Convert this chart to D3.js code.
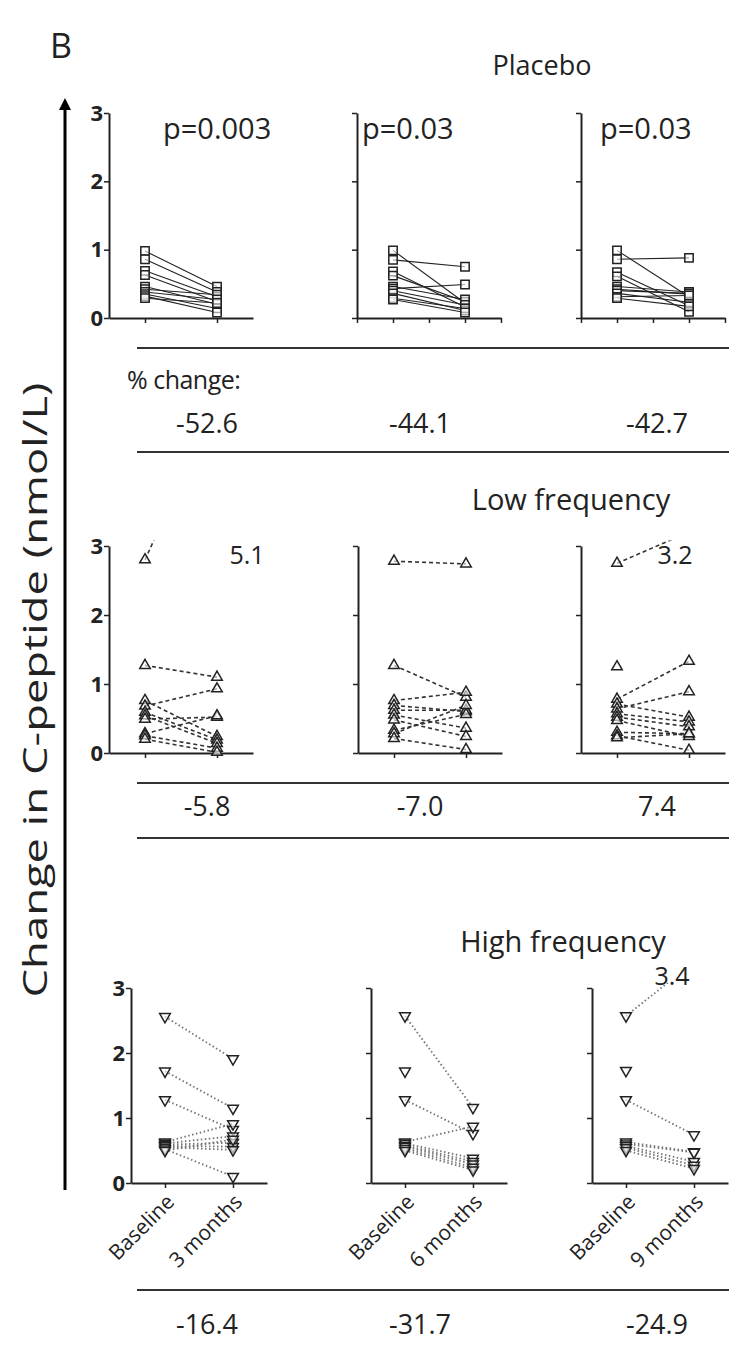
<!DOCTYPE html>
<html>
<head>
<meta charset="utf-8">
<script src="https://cdn.jsdelivr.net/npm/d3@7"></script>
<style>
  body { margin: 0; background: #fff; }
  svg { display: block; }
  text { font-family: "Open Sans", sans-serif; fill: #222; }
</style>
</head>
<body>
<svg id="chart" width="729" height="1346"></svg>
<script>
const groups = ["Placebo", "Low frequency", "High frequency"];
const followUps = ["3 months", "6 months", "9 months"];
const yTicks = [0, 1, 2, 3];
const pLabels = ["p=0.003", "p=0.03", "p=0.03"];

// C-peptide (nmol/L), one inner array per panel: 3, 6, 9 months
const placeboBaseline = [
  [0.98, 0.86, 0.69, 0.63, 0.46, 0.42, 0.38, 0.35, 0.32, 0.29],
  [0.99, 0.85, 0.68, 0.62, 0.46, 0.43, 0.40, 0.36, 0.29, 0.27],
  [0.99, 0.86, 0.67, 0.61, 0.46, 0.42, 0.40, 0.36, 0.31, 0.29]
];
const placeboFollow = [
  [0.46, 0.38, 0.31, 0.24, 0.20, 0.34, 0.27, 0.14, 0.08, 0.22],
  [0.22, 0.75, 0.16, 0.24, 0.27, 0.49, 0.19, 0.11, 0.14, 0.08],
  [0.31, 0.88, 0.18, 0.09, 0.38, 0.35, 0.36, 0.23, 0.33, 0.17]
];
const lowBaseline = [
  [2.80, 1.27, 0.76, 0.68, 0.59, 0.54, 0.49, 0.28, 0.25, 0.20],
  [2.78, 1.27, 0.76, 0.69, 0.62, 0.55, 0.48, 0.33, 0.28, 0.21],
  [2.75, 1.25, 0.78, 0.71, 0.64, 0.57, 0.52, 0.47, 0.30, 0.25, 0.22]
];
const lowFollow = [
  [5.1, 1.10, 0.24, 0.93, 0.19, 0.14, 0.52, 0.54, 0.07, 0.01],
  [2.74, 0.81, 0.88, 0.60, 0.62, 0.36, 0.24, 0.56, 0.69, 0.05],
  [3.2, null, 1.33, 0.52, 0.89, 0.45, 0.38, 0.24, 0.28, 0.04, 0.28]
];
const highBaseline = [
  [2.56, 1.72, 1.28, 0.63, 0.61, 0.59, 0.57, 0.55, 0.52, 0.50],
  [2.57, 1.72, 1.28, 0.63, 0.61, 0.58, 0.56, 0.53, 0.50],
  [2.57, 1.73, 1.28, 0.63, 0.60, 0.57, 0.54, 0.50]
];
const highFollow = [
  [1.91, 1.15, 0.82, 0.91, 0.72, 0.62, 0.56, 0.51, 0.10, 0.67],
  [1.16, null, 0.76, 0.87, 0.38, 0.33, 0.29, 0.24, 0.20],
  [3.4, null, 0.74, 0.48, 0.47, 0.33, 0.27, 0.22]
];
const pctPlacebo = ["-52.6", "-44.1", "-42.7"];
const pctLow = ["-5.8", "-7.0", "7.4"];
const pctHigh = ["-16.4", "-31.7", "-24.9"];

const svg = d3.select("#chart");

// row layout
const rows = [
  { title: groups[0], base: placeboBaseline, follow: placeboFollow, pct: pctPlacebo,
    y0: 318, y3: 113, axX: [109, 357, 581], w: 144, titleX: 542, titleY: 75, pctY: 433, rules: [348, 452],
    symbol: d3.symbolSquare, size: 70, rot: 0, dash: null, lineColor: "#222", lineW: 1.1,
    allTicks: [false, true, true], offDx: [0, 0, 0], offDy: [0, 0, 0] },
  { title: groups[1], base: lowBaseline, follow: lowFollow, pct: pctLow,
    y0: 753, y3: 546, axX: [109, 358, 581], w: 144, titleX: 571, titleY: 510, pctY: 816, rules: [783, 838],
    symbol: d3.symbolTriangle, size: 48, rot: 0, dash: "4,3", lineColor: "#333", lineW: 1.6,
    allTicks: [false, false, false], offDx: [30, 0, -14], offDy: [18, 0, 18] },
  { title: groups[2], base: highBaseline, follow: highFollow, pct: pctHigh,
    y0: 1183, y3: 988, axX: [131, 371, 592], w: 136, titleX: 563, titleY: 952, pctY: 1334, rules: [1290],
    symbol: d3.symbolTriangle, size: 50, rot: 180, dash: "1.5,2.5", lineColor: "#777", lineW: 1.9,
    allTicks: [false, false, false], offDx: [0, 0, -22], offDy: [0, 0, -3] }
];
const pctX = [207, 420, 657];

// panel label and big arrow
svg.append("text").attr("x", 50).attr("y", 58).attr("font-size", 34).text("B");

const defs = svg.append("defs");
defs.append("marker").attr("id", "arrow").attr("viewBox", "0 0 10 10")
  .attr("refX", 5).attr("refY", 5).attr("markerWidth", 4).attr("markerHeight", 6)
  .attr("orient", "auto-start-reverse")
  .append("path").attr("d", "M0,0L10,5L0,10Z").attr("fill", "#000");
svg.append("line").attr("x1", 65).attr("x2", 65).attr("y1", 1190).attr("y2", 104)
  .attr("stroke", "#000").attr("stroke-width", 3).attr("marker-end", "url(#arrow)");

svg.append("text")
  .attr("transform", "translate(47,690) rotate(-90)")
  .attr("text-anchor", "middle").attr("font-size", 33)
  .attr("textLength", 615).attr("lengthAdjust", "spacingAndGlyphs")
  .text("Change in C-peptide (nmol/L)");

svg.append("text").attr("x", 127).attr("y", 389).attr("font-size", 25)
  .attr("letter-spacing", "-0.5").text("% change:");

rows.forEach((row, ri) => {
  svg.append("text").attr("x", row.titleX).attr("y", row.titleY).attr("text-anchor", "middle")
    .attr("font-size", ri === 0 ? 27 : 29).text(row.title);

  row.rules.forEach(ry => {
    svg.append("line").attr("x1", 137).attr("x2", 729).attr("y1", ry).attr("y2", ry)
      .attr("stroke", "#333").attr("stroke-width", 2);
  });

  row.pct.forEach((p, i) => {
    svg.append("text").attr("x", pctX[i]).attr("y", row.pctY).attr("text-anchor", "middle")
      .attr("font-size", 27).text(p);
  });

  row.axX.forEach((ax, pi) => {
    const x = d3.scaleLinear().domain([0, 4]).range([ax, ax + row.w]);
    const y = d3.scaleLinear().domain([0, 3]).range([row.y0, row.y3]);
    const g = svg.append("g");

    const clipId = `clip-${ri}-${pi}`;
    defs.append("clipPath").attr("id", clipId).append("rect")
      .attr("x", ax).attr("y", y(3.08)).attr("width", row.w + 20).attr("height", row.y0 - y(3.08) + 10);

    const pairs = row.base[pi].map((b, k) => ({ b, f: row.follow[pi][k] }));

    g.append("g").attr("clip-path", `url(#${clipId})`)
      .selectAll("line").data(pairs.filter(d => d.f !== null)).join("line")
      .attr("x1", x(1)).attr("x2", x(3))
      .attr("y1", d => y(d.b)).attr("y2", d => y(d.f))
      .attr("stroke", row.lineColor).attr("stroke-width", row.lineW)
      .attr("stroke-dasharray", row.dash);

    // axes
    const yAxis = d3.axisLeft(y).tickValues(yTicks).tickSize(5).tickSizeOuter(0)
      .tickFormat(pi === 0 ? d3.format("d") : "");
    const ya = g.append("g").attr("transform", `translate(${ax},0)`).call(yAxis);
    const xTickVals = row.allTicks[pi] ? [0, 1, 2, 3, 4] : [1, 3];
    const xAxis = d3.axisBottom(x).tickValues(xTickVals).tickSize(5).tickSizeOuter(0)
      .tickFormat(ri === 2 ? (d => d === 1 ? "Baseline" : followUps[pi]) : "");
    const xa = g.append("g").attr("transform", `translate(0,${row.y0})`).call(xAxis);
    [ya, xa].forEach(a => {
      a.attr("font-size", null).attr("font-family", null);
      a.select(".domain").attr("stroke", "#222").attr("stroke-width", 2);
      a.selectAll(".tick line").attr("stroke", "#222").attr("stroke-width", 1.5);
      a.selectAll(".tick text").style("font-size", "22px")
        .style("font-weight", "bold").attr("fill", "#333");
    });
    ya.selectAll(".tick text").attr("x", -6);
    if (ri === 2) {
      xa.selectAll(".tick text").attr("x", 0).attr("y", 0).attr("dy", "0.35em")
        .attr("text-anchor", "end").style("font-weight", "normal").style("font-size", "21px")
        .attr("fill", "#444")
        .attr("transform", "translate(5,15) rotate(-45)");
    }

    // markers
    const sym = d3.symbol(row.symbol, row.size);
    const pts = [];
    pairs.forEach(d => {
      pts.push({ t: 1, v: d.b });
      if (d.f !== null && d.f <= 3) pts.push({ t: 3, v: d.f });
    });
    g.selectAll("path.pt").data(pts).join("path").attr("class", "pt")
      .attr("d", sym)
      .attr("transform", d => `translate(${x(d.t)},${y(d.v)}) rotate(${row.rot})`)
      .attr("fill", "#fff").attr("fill-opacity", 0.6)
      .attr("stroke", "#222").attr("stroke-width", 1.5);

    // off-scale values
    pairs.filter(d => d.f !== null && d.f > 3).forEach(d => {
      g.append("text").attr("x", x(3) + row.offDx[pi]).attr("y", y(3) + row.offDy[pi])
        .attr("text-anchor", "middle").attr("font-size", 25).text(d3.format(".1f")(d.f));
    });

    if (ri === 0) {
      const px = [163, 362, 600];
      g.append("text").attr("x", px[pi]).attr("y", 139).attr("font-size", 29).text(pLabels[pi]);
    }
  });
});
</script>
</body>
</html>
